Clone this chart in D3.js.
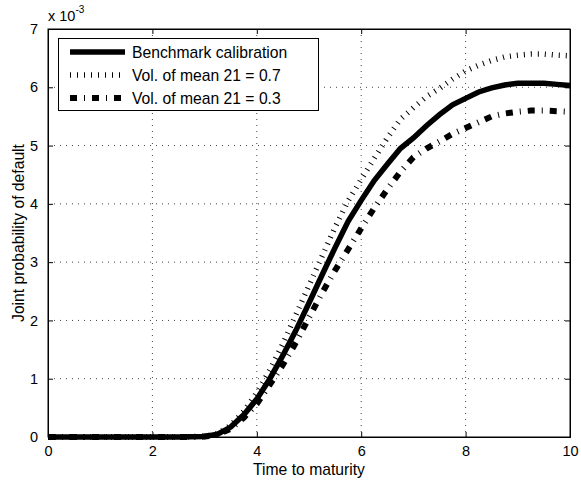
<!DOCTYPE html>
<html>
<head>
<meta charset="utf-8">
<script src="https://cdn.jsdelivr.net/npm/d3@7"></script>
<style>
body{margin:0;background:#fff;}
text{font-family:"Liberation Sans",Arial,sans-serif;}
</style>
</head>
<body>
<div id="canvas"></div>
<script>
// data, values in units of 1e-3
var times = [0,0.25,0.5,0.75,1,1.25,1.5,1.75,2,2.25,2.5,2.75,3,3.25,3.5,3.75,4,4.25,4.5,4.75,5,5.25,5.5,5.75,6,6.25,6.5,6.75,7,7.25,7.5,7.75,8,8.25,8.5,8.75,9,9.25,9.5,9.75,10];
var benchmark = [0,0,0,0,0,0,0,0,0,0,0,0.003,0.01,0.05,0.17,0.38,0.65,1.0,1.4,1.83,2.3,2.78,3.25,3.7,4.06,4.4,4.68,4.95,5.13,5.34,5.53,5.7,5.81,5.92,5.99,6.04,6.07,6.07,6.07,6.05,6.03];
var vol07 = [0,0,0,0,0,0,0,0,0,0,0,0.004,0.012,0.06,0.2,0.44,0.76,1.15,1.6,2.1,2.6,3.1,3.6,4.05,4.42,4.78,5.13,5.45,5.65,5.84,5.98,6.14,6.28,6.38,6.46,6.52,6.55,6.57,6.57,6.55,6.54];
var vol03 = [0,0,0,0,0,0,0,0,0,0,0,0.002,0.008,0.04,0.14,0.33,0.57,0.9,1.24,1.62,2.05,2.47,2.86,3.22,3.58,3.93,4.25,4.55,4.8,4.95,5.07,5.2,5.3,5.4,5.5,5.55,5.58,5.6,5.6,5.59,5.58];
var seriesNames = ['Benchmark calibration','Vol. of mean 21 = 0.7','Vol. of mean 21 = 0.3'];
var xTicks = [0,2,4,6,8,10];
var yTicks = [0,1,2,3,4,5,6,7];

var W = 581, H = 484;
var m = {t:29,r:11,b:47,l:48};
var w = W - m.l - m.r,
    h = H - m.t - m.b;

var svg = d3.select('#canvas')
    .append('svg')
    .attr('width',W)
    .attr('height',H);

var plot = svg.append('g')
    .attr('transform','translate(' + m.l + ',' + m.t + ')');

var scaleX = d3.scaleLinear().domain([0,10]).range([0,w]);
var scaleY = d3.scaleLinear().domain([0,7]).range([h,0]);

// grid
plot.selectAll('.gx').data(xTicks.slice(1,-1)).enter()
    .append('line')
    .attr('x1',function(d){return scaleX(d);})
    .attr('x2',function(d){return scaleX(d);})
    .attr('y1',0).attr('y2',h)
    .attr('stroke','#444').attr('stroke-width',1)
    .attr('stroke-dasharray','1,5');
plot.selectAll('.gy').data(yTicks.slice(1,-1)).enter()
    .append('line')
    .attr('y1',function(d){return scaleY(d);})
    .attr('y2',function(d){return scaleY(d);})
    .attr('x1',0).attr('x2',w)
    .attr('stroke','#444').attr('stroke-width',1)
    .attr('stroke-dasharray','1,5');

// axes with inward ticks
var axisB = d3.axisBottom(scaleX).tickValues(xTicks).tickSize(-5).tickPadding(9).tickFormat(d3.format('d'));
var axisT = d3.axisTop(scaleX).tickValues(xTicks).tickSize(-5).tickFormat('');
var axisL = d3.axisLeft(scaleY).tickValues(yTicks).tickSize(-5).tickPadding(10).tickFormat(d3.format('d'));
var axisR = d3.axisRight(scaleY).tickValues(yTicks).tickSize(-5).tickFormat('');

plot.append('g').attr('class','axis').attr('transform','translate(0,'+h+')').call(axisB);
plot.append('g').attr('class','axis').call(axisT);
plot.append('g').attr('class','axis').call(axisL);
plot.append('g').attr('class','axis').attr('transform','translate('+w+',0)').call(axisR);

plot.selectAll('.axis text').attr('font-size','14.5px').attr('fill','#000')
    .style('font-family','"Liberation Sans",Arial,sans-serif');
plot.selectAll('.axis path, .axis line').attr('stroke','#000');

// lines
var styles = [
    {dash:null, width:5.5},
    {dash:'1,6', width:5.5},
    {dash:'7,7,1,7', width:6}
];
var seriesData = [benchmark, vol07, vol03];

var line = d3.line()
    .x(function(d){return scaleX(d[0]);})
    .y(function(d){return scaleY(d[1]);});

seriesData.forEach(function(vals,i){
    var pts = times.map(function(t,j){return [t,vals[j]];});
    plot.append('path')
        .datum(pts)
        .attr('d',line)
        .attr('fill','none')
        .attr('stroke','#000')
        .attr('stroke-width',styles[i].width)
        .attr('stroke-dasharray',styles[i].dash);
});

// redraw box edges on top
plot.append('rect').attr('width',w).attr('height',h)
    .attr('fill','none').attr('stroke','#000').attr('stroke-width',1);

// legend
var legend = svg.append('g');
legend.append('rect')
    .attr('x',58.5).attr('y',38.5).attr('width',260).attr('height',72)
    .attr('fill','#fff').attr('stroke','#000').attr('stroke-width',1);
var legY = [52,75,98];
seriesNames.forEach(function(name,i){
    legend.append('line')
        .attr('x1',70).attr('x2',125)
        .attr('y1',legY[i]).attr('y2',legY[i])
        .attr('stroke','#000')
        .attr('stroke-width',styles[i].width)
        .attr('stroke-dasharray',styles[i].dash);
    legend.append('text')
        .attr('x',132).attr('y',legY[i]+5.5)
        .attr('font-size','15.7px')
        .text(name);
});

// labels
svg.append('text')
    .attr('x',m.l + w/2).attr('y',475)
    .attr('text-anchor','middle')
    .attr('font-size','15.7px')
    .text('Time to maturity');

svg.append('text')
    .attr('transform','translate(24,' + (m.t + h/2) + ') rotate(-90)')
    .attr('text-anchor','middle')
    .attr('font-size','15.7px')
    .text('Joint probability of default');

var expo = svg.append('text')
    .attr('x',48).attr('y',21)
    .attr('font-size','14.5px');
expo.append('tspan').text('x 10');
expo.append('tspan').attr('dy',-8).attr('font-size','10px').text('-3');
</script>
</body>
</html>
